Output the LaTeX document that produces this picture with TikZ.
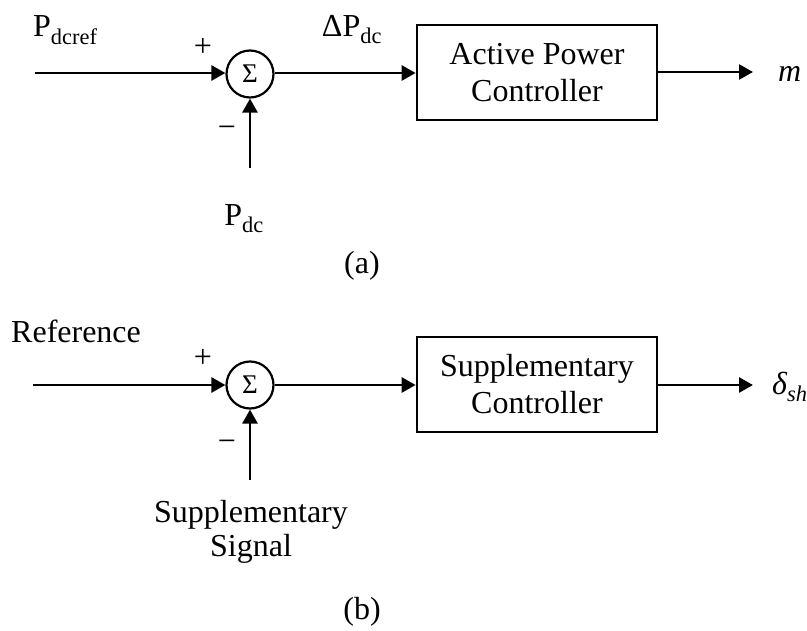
\documentclass[tikz,border=0pt]{standalone}
\usepackage{fontspec}
\setmainfont{Liberation Serif}
\usetikzlibrary{arrows.meta}
\begin{document}
\begin{tikzpicture}[x=1pt,y=-1pt,
  every node/.style={font=\fontsize{32}{36}\selectfont, inner sep=0pt},
  sig/.style={line width=2.7pt, -{Triangle[length=14pt,width=15pt]}},
  sumnode/.style={circle, draw, line width=2.2pt, minimum size=47pt, font=\fontsize{27}{30}\selectfont},
  blockbox/.style={draw, line width=2.7pt, minimum width=240pt, minimum height=95pt, align=center}]
\useasboundingbox (0,0) rectangle (807,631);
% (a)
\coordinate (ina) at (35,73);
\node[sumnode] (suma) at (250,74) {Σ};
\node[blockbox] (boxa) at (537,72.5) {Active Power\\[1pt]Controller};
\coordinate (outa) at (753,72);
\coordinate (fba) at (250,168);
\node[anchor=base west] (pref) at (33,37) {P\textsubscript{dcref}};
\node (plusa) at (203,47) {+};
\node (minusa) at (227,132) {−};
\node[anchor=base] (dpdc) at (352,37) {ΔP\textsubscript{dc}};
\node[anchor=base] (pdc) at (244,226) {P\textsubscript{dc}};
\node[anchor=west] (ma) at (778,74) {\itshape m};
\node (capa) at (362,266) {(a)};
\draw[sig] (ina) -- (ina -| suma.west);
\draw[sig] (fba) -- (suma.south);
\draw[sig] (suma.east |- ina) -- (boxa.west |- ina);
\draw[sig] (boxa.east |- outa) -- (outa);
% (b)
\coordinate (inb) at (33,385);
\node[sumnode] (sumb) at (250,385) {Σ};
\node[blockbox] (boxb) at (537,384.5) {Supplementary\\[1pt]Controller};
\coordinate (outb) at (753,385);
\coordinate (fbb) at (250,480);
\node[anchor=base west] (refl) at (11,343) {Reference};
\node (plusb) at (203,358) {+};
\node (minusb) at (227,446) {−};
\node[align=center, anchor=north] (supsig) at (251,500) {Supplementary\\[-2pt]Signal};
\node[anchor=west] (db) at (772,387) {\itshape δ\textsubscript{sh}};
\node (capb) at (362,612) {(b)};
\draw[sig] (inb) -- (inb -| sumb.west);
\draw[sig] (fbb) -- (sumb.south);
\draw[sig] (sumb.east |- inb) -- (boxb.west |- inb);
\draw[sig] (boxb.east |- outb) -- (outb);
\end{tikzpicture}
\end{document}
